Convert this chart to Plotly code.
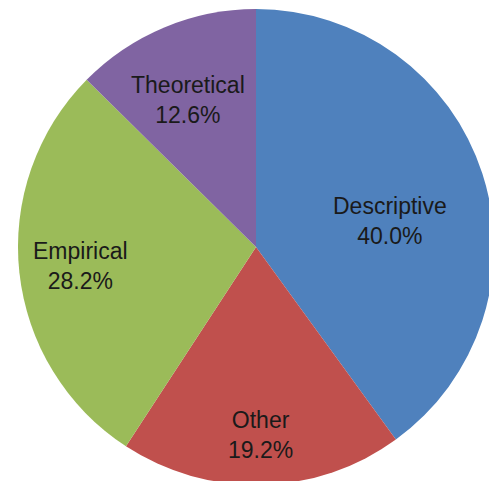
import math
import plotly.graph_objects as go

categories = ["Descriptive", "Other", "Empirical", "Theoretical"]
shares = [40.0, 19.2, 28.2, 12.6]
colors = ["#4F81BD", "#C0504D", "#9BBB59", "#8064A2"]
# label placement style: distance from centre (fraction of radius) and small angular nudge (deg)
label_radius = [0.575, 0.79, 0.74, 0.68]
label_turn = [7.0, 0.0, 0.0, -2.3]

# canvas is a bit larger than the window so the pie is cropped on the right like the original
W, H = 497, 489
dom_x = [18 / W, 494 / W]
dom_y = [(H - 485) / H, (H - 9) / H]

fig = go.Figure(go.Pie(
    labels=categories,
    values=shares,
    sort=False,
    direction="clockwise",
    rotation=0,
    marker=dict(colors=colors, line=dict(width=0)),
    textinfo="none",
    hoverinfo="label+percent",
    showlegend=False,
    domain=dict(x=dom_x, y=dom_y),
))

# pie geometry in paper pixels
cx = (dom_x[0] + dom_x[1]) / 2 * W
cy = (dom_y[0] + dom_y[1]) / 2 * H
R = min((dom_x[1] - dom_x[0]) * W, (dom_y[1] - dom_y[0]) * H) / 2

total = sum(shares)
cum = 0.0
annotations = []
for name, v, f, t in zip(categories, shares, label_radius, label_turn):
    mid = (cum + v / 2) / total * 2 * math.pi + math.radians(t)
    cum += v
    px = cx + f * R * math.sin(mid)
    py = cy + f * R * math.cos(mid)
    annotations.append(dict(
        x=px / W, y=py / H, xref="paper", yref="paper",
        text=f"{name}<br>{v / total * 100:.1f}%",
        showarrow=False, xanchor="center", yanchor="middle", align="center",
        font=dict(family="Liberation Sans, Arial, sans-serif", size=23, color="#1a1a1a"),
    ))

fig.update_layout(
    width=W,
    height=H,
    margin=dict(l=0, r=0, t=0, b=0),
    paper_bgcolor="white",
    plot_bgcolor="white",
    showlegend=False,
    annotations=annotations,
)

fig.write_html(
    "out.html",
    config={"displayModeBar": False},
    post_script="document.body.style.margin='0';document.body.style.overflow='hidden';",
)
